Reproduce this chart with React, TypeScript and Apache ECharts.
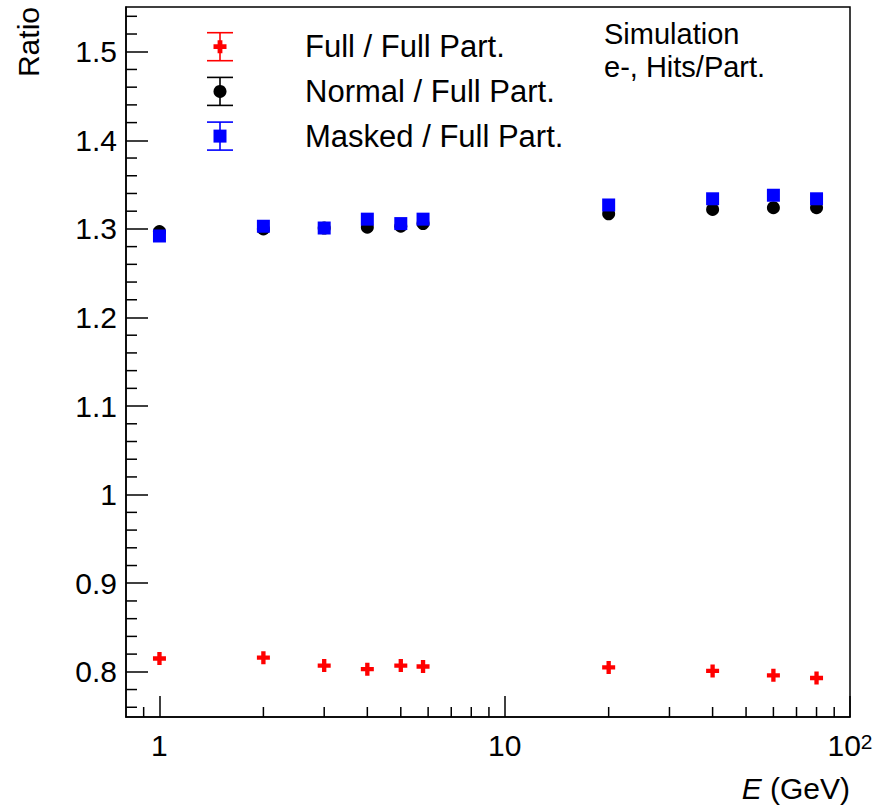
import { useEffect, useRef } from "react";
import * as echarts from "echarts";

// Beam energies (GeV) and the three hit-count ratios measured at each one
const energies = [1, 2, 3, 4, 5, 5.8, 20, 40, 60, 80];
const fullRatio = [0.815, 0.816, 0.807, 0.803, 0.807, 0.806, 0.805, 0.801, 0.796, 0.793];
const normalRatio = [1.297, 1.3, 1.301, 1.302, 1.303, 1.306, 1.317, 1.322, 1.324, 1.324];
const maskedRatio = [1.292, 1.303, 1.301, 1.311, 1.306, 1.311, 1.327, 1.334, 1.338, 1.334];

const seriesNames = ["Full / Full Part.", "Normal / Full Part.", "Masked / Full Part."];
const seriesColors = ["#ff0000", "#000000", "#0000ff"];
const headerLines = ["Simulation", "e-, Hits/Part."];

// Axis ranges and the ROOT-style minor tick positions
const xRange = [0.8, 100];
const yRange = [0.749, 1.5505];
const xMinorTicks = [0.9, 2, 3, 4, 5, 6, 7, 8, 9, 20, 30, 40, 50, 60, 70, 80, 90];
const yMinorTicks = [
  0.76, 0.78, 0.82, 0.84, 0.86, 0.88, 0.92, 0.94, 0.96, 0.98, 1.02, 1.04, 1.06, 1.08,
  1.12, 1.14, 1.16, 1.18, 1.22, 1.24, 1.26, 1.28, 1.32, 1.34, 1.36, 1.38, 1.42, 1.44,
  1.46, 1.48, 1.52, 1.54,
];

const FONT = '"Liberation Sans", Arial, Helvetica, sans-serif';
const PLUS = "path://M4,0H8V4H12V8H8V12H4V8H0V4H4Z";

function legendMarker(i: number, cx: number, cy: number) {
  const color = seriesColors[i];
  if (i === 0) {
    const h = 6.5;
    const a = 2.4;
    return {
      type: "polygon",
      shape: {
        points: [
          [cx - a, cy - h], [cx + a, cy - h], [cx + a, cy - a], [cx + h, cy - a],
          [cx + h, cy + a], [cx + a, cy + a], [cx + a, cy + h], [cx - a, cy + h],
          [cx - a, cy + a], [cx - h, cy + a], [cx - h, cy - a], [cx - a, cy - a],
        ],
      },
      style: { fill: color },
    };
  }
  if (i === 1) {
    return { type: "circle", shape: { cx, cy, r: 6.5 }, style: { fill: color } };
  }
  return { type: "rect", shape: { x: cx - 6.5, y: cy - 6.5, width: 13, height: 13 }, style: { fill: color } };
}

export default function App() {
  const ref = useRef<HTMLDivElement>(null);

  useEffect(() => {
    if (!ref.current) return;
    const chart = echarts.init(ref.current, null, { renderer: "svg" });

    const legendItems: any[] = [];
    seriesNames.forEach((name, i) => {
      const cx = 220;
      const cy = 46.7 + i * 44.7;
      const color = seriesColors[i];
      const ls = { stroke: color, lineWidth: 1.6 };
      legendItems.push(
        { type: "line", shape: { x1: cx, y1: cy - 14, x2: cx, y2: cy + 14 }, style: ls },
        { type: "line", shape: { x1: cx - 13, y1: cy - 14, x2: cx + 13, y2: cy - 14 }, style: ls },
        { type: "line", shape: { x1: cx - 13, y1: cy + 14, x2: cx + 13, y2: cy + 14 }, style: ls },
        legendMarker(i, cx, cy),
        {
          type: "text",
          x: 305,
          y: cy,
          style: { text: name, fill: "#000", font: `31px ${FONT}`, align: "left", verticalAlign: "middle" },
        }
      );
    });

    const tickLine = { color: "#000", width: 1.5 };

    const option: any = {
      animation: false,
      backgroundColor: "#ffffff",
      grid: {
        left: 126,
        right: 26,
        top: 7,
        bottom: 93,
        show: true,
        borderColor: "#000",
        borderWidth: 1.5,
        backgroundColor: "transparent",
        containLabel: false,
        outerBoundsMode: "none",
      },
      xAxis: {
        type: "log",
        logBase: 10,
        min: xRange[0],
        max: xRange[1],
        axisLine: { show: true, lineStyle: tickLine },
        axisTick: { show: true, inside: true, length: 21, lineStyle: tickLine },
        minorTick: { show: false },
        splitLine: { show: false },
        axisLabel: {
          show: true,
          showMinLabel: false,
          showMaxLabel: true,
          margin: 13.5,
          color: "#000",
          fontFamily: FONT,
          fontSize: 30,
          lineHeight: 30,
          formatter: (v: number) => {
            const r = Math.round(v * 1000) / 1000;
            if (Math.abs(r - 100) < 1e-6) return "{b|10}{s|2}";
            return String(r);
          },
          rich: {
            b: { fontFamily: FONT, fontSize: 30, lineHeight: 30, color: "#000" },
            s: { fontFamily: FONT, fontSize: 21, lineHeight: 16, verticalAlign: "top", color: "#000" },
          },
        },
      },
      yAxis: {
        type: "value",
        min: yRange[0],
        max: yRange[1],
        splitNumber: 8,
        axisLine: { show: true, lineStyle: tickLine },
        axisTick: { show: true, inside: true, length: 22, lineStyle: tickLine },
        splitLine: { show: false },
        axisLabel: {
          show: true,
          showMinLabel: false,
          showMaxLabel: false,
          margin: 9,
          color: "#000",
          fontFamily: FONT,
          fontSize: 30,
          lineHeight: 30,
          formatter: (v: number) => String(Math.round(v * 100) / 100),
        },
      },
      graphic: [
        {
          type: "text",
          x: 28,
          y: 7,
          rotation: Math.PI / 2,
          style: { text: "Ratio", fill: "#000", font: `30px ${FONT}`, align: "right", verticalAlign: "middle" },
        },
        {
          type: "text",
          x: 850,
          y: 788,
          style: {
            text: "{i|E} (GeV)",
            fill: "#000",
            font: `30px ${FONT}`,
            align: "right",
            verticalAlign: "middle",
            rich: { i: { fontStyle: "italic", fontFamily: FONT, fontSize: 30, fill: "#000" } },
          },
        },
        // two-line header in the top right corner
        ...headerLines.map((t, i) => ({
          type: "text",
          x: 604,
          y: 34 + i * 32.8,
          style: { text: t, fill: "#000", font: `29px ${FONT}`, align: "left", verticalAlign: "middle" },
        })),
        ...legendItems,
      ],
      series: [
        {
          name: seriesNames[0],
          type: "scatter",
          symbol: PLUS,
          symbolSize: 13,
          itemStyle: { color: seriesColors[0], opacity: 1 },
          data: energies.map((e, i) => [e, fullRatio[i]]),
          z: 3,
        },
        {
          name: seriesNames[1],
          type: "scatter",
          symbol: "circle",
          symbolSize: 13,
          itemStyle: { color: seriesColors[1], opacity: 1 },
          data: energies.map((e, i) => [e, normalRatio[i]]),
          z: 3,
        },
        {
          name: seriesNames[2],
          type: "scatter",
          symbol: "rect",
          symbolSize: 13,
          itemStyle: { color: seriesColors[2], opacity: 1 },
          data: energies.map((e, i) => [e, maskedRatio[i]]),
          z: 4,
        },
        {
          type: "custom",
          coordinateSystem: "cartesian2d",
          silent: true,
          clip: false,
          z: 5,
          data: xMinorTicks.map((v) => [v, 1]),
          renderItem: (params: any, api: any) => {
            const x = api.coord([api.value(0), 1])[0];
            const cs = params.coordSys;
            const yb = cs.y + cs.height;
            return {
              type: "line",
              shape: { x1: x, y1: yb, x2: x, y2: yb - 10 },
              style: { stroke: "#000", lineWidth: 1.5 },
            };
          },
        },
        {
          type: "custom",
          coordinateSystem: "cartesian2d",
          silent: true,
          clip: false,
          z: 5,
          data: yMinorTicks.map((v) => [1, v]),
          renderItem: (params: any, api: any) => {
            const y = api.coord([1, api.value(1)])[1];
            const cs = params.coordSys;
            return {
              type: "line",
              shape: { x1: cs.x, y1: y, x2: cs.x + 11, y2: y },
              style: { stroke: "#000", lineWidth: 1.5 },
            };
          },
        },
      ],
    };

    chart.setOption(option);
    return () => chart.dispose();
  }, []);

  return (
    <div
      ref={ref}
      style={{ position: "fixed", left: 0, top: 0, width: 876, height: 810, background: "#fff" }}
    />
  );
}
